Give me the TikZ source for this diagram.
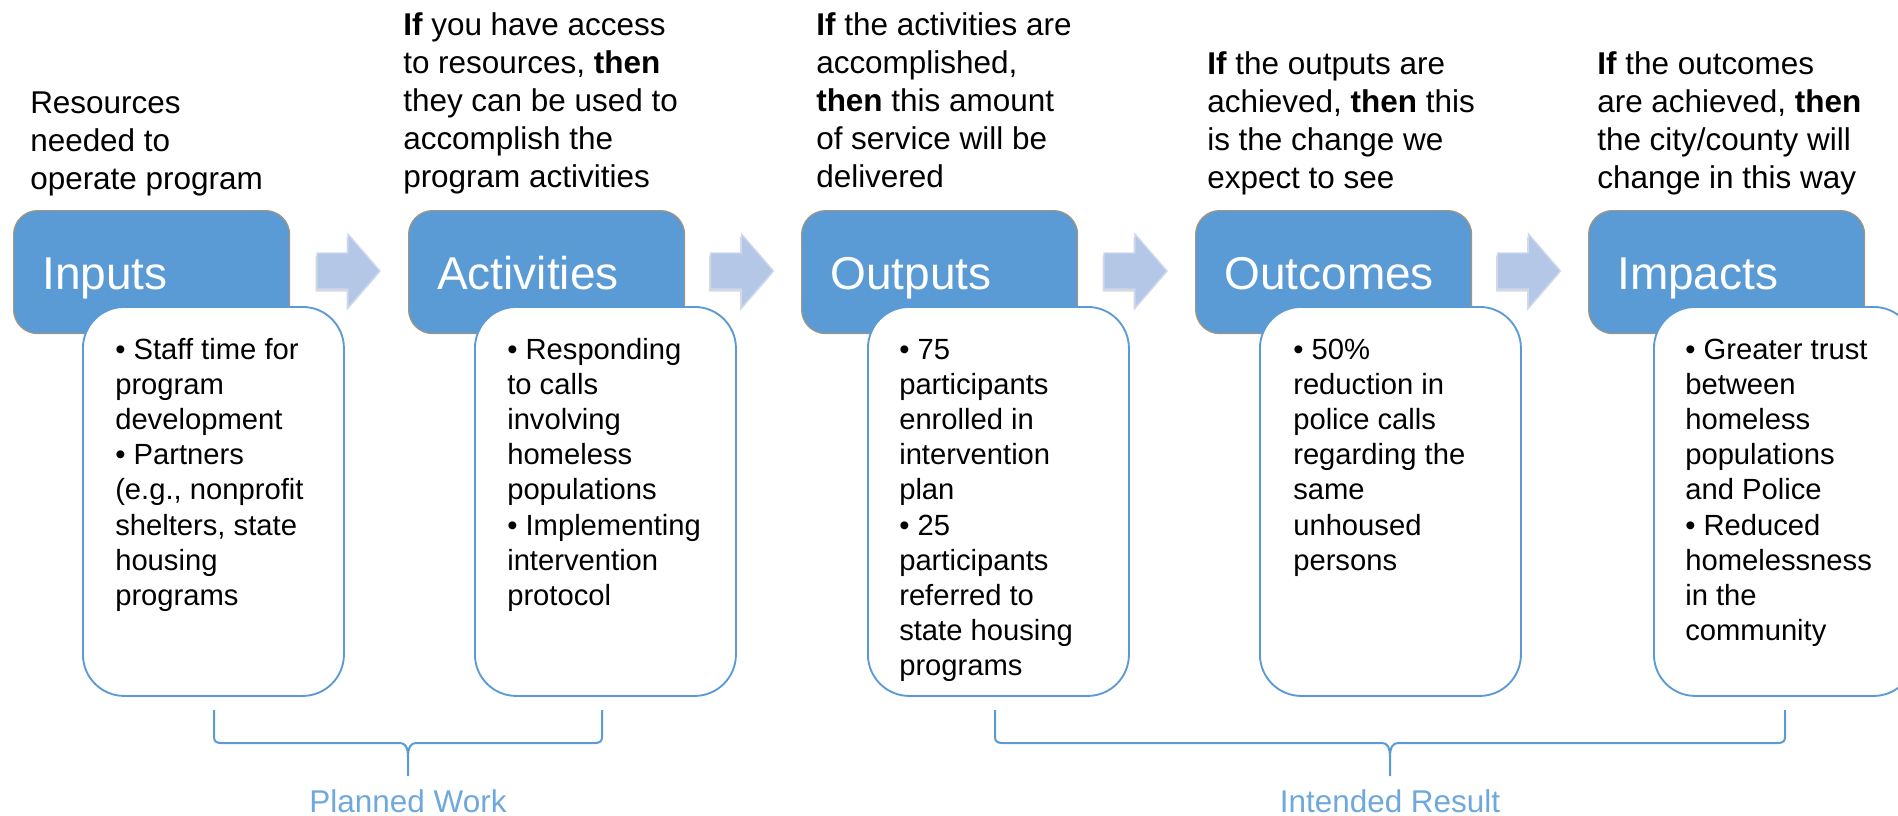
\documentclass[tikz,border=0pt]{standalone}
\usepackage{fontspec}
\setmainfont{Liberation Sans}
\usetikzlibrary{shadows}
\definecolor{boxblue}{HTML}{5B9BD5}
\definecolor{boxedge}{HTML}{A3967C}
\definecolor{arrowfill}{HTML}{B4C7E7}
\definecolor{arrowedge}{HTML}{CCD9EF}
\definecolor{bracecol}{HTML}{5B9BD5}
\definecolor{labelcol}{HTML}{6FA8DC}
\begin{document}
\begin{tikzpicture}[x=0.75pt,y=-0.75pt,
  titlebox/.style={draw=boxedge, line width=0.9pt, fill=boxblue, rounded corners=18pt,
    minimum width=207pt, minimum height=92.25pt, anchor=north west, inner sep=0pt},
  descbox/.style={draw=boxblue, line width=1.4pt, fill=white, rounded corners=31pt,
    minimum width=195.75pt, minimum height=291.75pt, anchor=north west, inner sep=0pt},
  titletxt/.style={text=white, font={\fontsize{34.5pt}{41pt}\selectfont}, anchor=base west, inner sep=0pt},
  headtxt/.style={align=left, font={\fontsize{23.6pt}{28.5pt}\selectfont}, anchor=north west, inner sep=0pt},
  desctxt/.style={align=left, font={\fontsize{21.9pt}{26.4pt}\selectfont}, anchor=north west, inner sep=0pt},
  blockarrow/.style={fill=arrowfill, draw=arrowedge, line width=1pt,
    drop shadow={opacity=0.3, shadow xshift=-1pt, shadow yshift=-2pt}},
  bracestyle/.style={draw=bracecol, line width=1.5pt},
  labeltxt/.style={text=labelcol, font={\fontsize{23.6pt}{28pt}\selectfont}, anchor=base, inner sep=0pt}
]
\useasboundingbox (0,0) rectangle (1898,815);

% title boxes
\node[titlebox] (b1) at (13,210) {};
\node[titlebox] (b2) at (408,210) {};
\node[titlebox] (b3) at (801,210) {};
\node[titlebox] (b4) at (1195,210) {};
\node[titlebox] (b5) at (1588,210) {};

\node[titletxt] (t1) at (42,289) {Inputs};
\node[titletxt] (t2) at (437,289) {Activities};
\node[titletxt] (t3) at (830,289) {Outputs};
\node[titletxt] (t4) at (1224,289) {Outcomes};
\node[titletxt] (t5) at (1617,289) {Impacts};

% block arrows
\foreach \ax in {317,710.5,1104,1497.5}{
  \path[blockarrow] (\ax,253) -- (\ax+31,253) -- (\ax+31,234) -- (\ax+63,271)
    -- (\ax+31,308) -- (\ax+31,289) -- (\ax,289) -- cycle;
}

% description boxes
\node[descbox] (w1) at (82,306) {};
\node[descbox] (w2) at (474,306) {};
\node[descbox] (w3) at (867,306) {};
\node[descbox] (w4) at (1259,306) {};
\node[descbox] (w5) at (1653,306) {};

\node[desctxt] (d1) at (115,334) {\rule{0pt}{0.85em}• Staff time for\\program\\development\\• Partners\\(e.g., nonprofit\\shelters, state\\housing\\programs};
\node[desctxt] (d2) at (507,334) {\rule{0pt}{0.85em}• Responding\\to calls\\involving\\homeless\\populations\\• Implementing\\intervention\\protocol};
\node[desctxt] (d3) at (899,334) {\rule{0pt}{0.85em}• 75\\participants\\enrolled in\\intervention\\plan\\• 25\\participants\\referred to\\state housing\\programs};
\node[desctxt] (d4) at (1293,334) {\rule{0pt}{0.85em}• 50\%\\reduction in\\police calls\\regarding the\\same\\unhoused\\persons};
\node[desctxt] (d5) at (1685,334) {\rule{0pt}{0.85em}• Greater trust\\between\\homeless\\populations\\and Police\\• Reduced\\homelessness\\in the\\community};

% headers
\node[headtxt] (h1) at (30,86.5) {\rule{0pt}{0.85em}Resources\\needed to\\operate program};
\node[headtxt] (h2) at (403,8.5) {\rule{0pt}{0.85em}\textbf{If} you have access\\to resources, \textbf{then}\\they can be used to\\accomplish the\\program activities};
\node[headtxt] (h3) at (816,8.5) {\rule{0pt}{0.85em}\textbf{If} the activities are\\accomplished,\\\textbf{then} this amount\\of service will be\\delivered};
\node[headtxt] (h4) at (1207,47.5) {\rule{0pt}{0.85em}\textbf{If} the outputs are\\achieved, \textbf{then} this\\is the change we\\expect to see};
\node[headtxt] (h5) at (1597,47.5) {\rule{0pt}{0.85em}\textbf{If} the outcomes\\are achieved, \textbf{then}\\the city/county will\\change in this way};

% braces
\path[bracestyle] (214,710) -- (214,737) .. controls (214,741) and (216,743) .. (221,743)
  -- (400,743) .. controls (405,743) and (408,747) .. (408,757) -- (408,776);
\path[bracestyle] (602,710) -- (602,737) .. controls (602,741) and (600,743) .. (595,743)
  -- (416,743) .. controls (411,743) and (408,747) .. (408,757);
\path[bracestyle] (995,710) -- (995,737) .. controls (995,741) and (997,743) .. (1002,743)
  -- (1382,743) .. controls (1387,743) and (1390,747) .. (1390,757) -- (1390,776);
\path[bracestyle] (1785,710) -- (1785,737) .. controls (1785,741) and (1783,743) .. (1778,743)
  -- (1398,743) .. controls (1393,743) and (1390,747) .. (1390,757);

\node[labeltxt] (l1) at (408,812) {Planned Work};
\node[labeltxt] (l2) at (1390,812) {Intended Result};
\end{tikzpicture}
\end{document}
